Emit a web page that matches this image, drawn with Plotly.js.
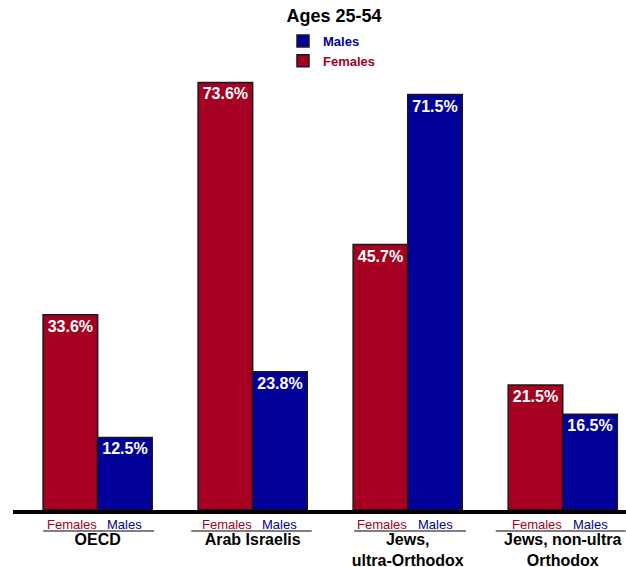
<!DOCTYPE html>
<html>
<head>
<meta charset="utf-8">
<script src="https://cdn.plot.ly/plotly-3.0.1.min.js"></script>
<style>html,body{margin:0;padding:0;background:#fff;}#chart{width:626px;height:567px;}</style>
</head>
<body>
<div id="chart"></div>
<script>
const titleText = 'Ages 25-54';
const groups = ['OECD', 'Arab Israelis', 'Jews,<br>ultra-Orthodox', 'Jews, non-ultra<br>Orthodox'];
const seriesNames = ['Females', 'Males'];
const females = [33.6, 73.6, 45.7, 21.5];
const males = [12.5, 23.8, 71.5, 16.5];

const RED = '#a50021';
const BLUE = '#000099';
const FONT = 'Liberation Sans, Arial, Helvetica, sans-serif';
const BW = 0.352;
const idx = groups.map((g, i) => i);

function fmt(v){ return v.toFixed(1) + '%'; }

const common = {
  type: 'bar',
  x: idx,
  width: BW,
  textposition: 'inside',
  insidetextanchor: 'end',
  textangle: 0,
  textfont: {family: FONT, size: 16, color: '#ffffff', weight: 'bold'},
  cliponaxis: false,
  hoverinfo: 'none'
};

const traces = [
  Object.assign({}, common, {
    name: '<span style="color:' + RED + '">' + seriesNames[0] + '</span>',
    y: females, offset: -BW, text: females.map(fmt),
    marker: {color: RED, line: {color: '#1a1a1a', width: 1.5}}
  }),
  Object.assign({}, common, {
    name: '<span style="color:' + BLUE + '">' + seriesNames[1] + '</span>',
    y: males, offset: 0, text: males.map(fmt),
    marker: {color: BLUE, line: {color: '#1a1a1a', width: 1.5}}
  })
];

const annotations = [];
const shapes = [];
const ulExt = [[-54.4, 56.6], [-61.4, 59], [-53.5, 58.2], [-67, 63]];
groups.forEach((g, i) => {
  annotations.push({x: i - BW/2 + 0.01, xref: 'x', y: 0, yref: 'paper', yshift: -14, yanchor: 'middle',
    text: seriesNames[0], showarrow: false, font: {family: FONT, size: 13, color: RED}});
  annotations.push({x: i + BW/2, xref: 'x', y: 0, yref: 'paper', yshift: -14, yanchor: 'middle',
    text: seriesNames[1], showarrow: false, font: {family: FONT, size: 13, color: BLUE}});
  shapes.push({type: 'line', xref: 'x', yref: 'paper', ysizemode: 'pixel', yanchor: 0,
    x0: i + ulExt[i][0]/155, x1: i + ulExt[i][1]/155, y0: -21, y1: -21,
    line: {color: '#555555', width: 1.5}});
});

const layout = {
  width: 626, height: 567,
  margin: {l: 13, r: 0, t: 49, b: 57},
  paper_bgcolor: '#ffffff', plot_bgcolor: '#ffffff',
  font: {family: FONT, color: '#000000'},
  title: {text: titleText, x: 334/626, xref: 'container', xanchor: 'center',
    y: 1 - 16/567, yref: 'container', yanchor: 'middle',
    font: {family: FONT, size: 18, weight: 'bold', color: '#000000'}},
  showlegend: true,
  legend: {traceorder: 'reversed', xref: 'paper', yref: 'paper', x: (283 - 13)/613, xanchor: 'left',
    y: 1 + (49 - 26)/461, yanchor: 'top', bgcolor: 'rgba(0,0,0,0)',
    font: {family: FONT, size: 13, weight: 'bold'}},
  barmode: 'group',
  xaxis: {type: 'linear', range: [-0.546, 3.408], showgrid: false, zeroline: false,
    showline: true, linecolor: '#000000', linewidth: 4, ticks: '',
    tickmode: 'array', tickvals: idx, ticktext: groups, tickangle: 0,
    ticklabelstandoff: 12,
    tickfont: {family: FONT, size: 16, weight: 'bold', color: '#000000'}, fixedrange: true},
  yaxis: {range: [0, 79.35], showgrid: false, zeroline: false, showline: false,
    showticklabels: false, ticks: '', fixedrange: true},
  annotations: annotations,
  shapes: shapes,
  hovermode: false,
  uniformtext: {mode: 'show', minsize: 16}
};

Plotly.newPlot('chart', traces, layout, {displayModeBar: false, staticPlot: true});
</script>
</body>
</html>
